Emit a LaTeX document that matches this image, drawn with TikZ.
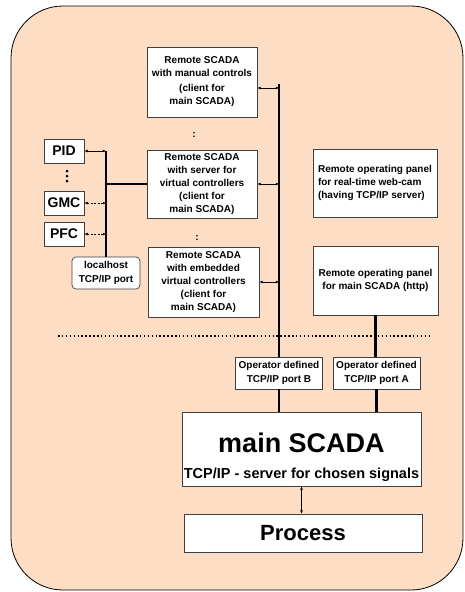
\documentclass[tikz,border=0pt]{standalone}
\usepackage{fontspec}
\setmainfont{Liberation Sans}
\usetikzlibrary{arrows.meta}
\definecolor{peach}{RGB}{253,222,197}

\begin{document}
\begin{tikzpicture}[x=1pt,y=-1pt,>={Latex[length=3.2pt,width=2.8pt]},
    every node/.style={font=\bfseries\fontsize{10}{13}\selectfont,inner sep=0pt},
    box/.style={draw=black!75,fill=white,line width=.7pt,align=center},
    tag/.style={box,font=\bfseries\fontsize{14}{16}\selectfont,minimum width=40pt,minimum height=24pt},
    port/.style={box,font=\bfseries\fontsize{10}{14}\selectfont,minimum width=87pt,minimum height=32pt},
    bus/.style={line width=1.8pt},
    trunk/.style={line width=2.8pt},
    link/.style={line width=.6pt,<->}
    ]
\useasboundingbox (0,0) rectangle (464,592);
\draw[fill=peach,line width=.8pt,rounded corners=52pt] (11,6) rectangle (463,590);

% remote clients
\node[box,minimum width=110pt,minimum height=70pt] (manual) at (202,82)
    {Remote SCADA\\with manual controls\\[2pt](client for\\main SCADA)};
\node (dotsA) at (194,135) {:};
\node[box,minimum width=110pt,minimum height=68pt] (server) at (202,184)
    {Remote SCADA\\with server for\\virtual controllers\\(client for\\main SCADA)};
\node (dotsB) at (197,238) {:};
\node[box,minimum width=111pt,minimum height=70pt] (embedded) at (203.5,282)
    {Remote SCADA\\with embedded\\virtual controllers\\(client for\\main SCADA)};

% operating panels
\node[box,align=left,minimum width=124pt,minimum height=68pt] (webcam) at (375,183)
    {Remote operating panel\\for real-time web-cam\\(having TCP/IP server)};
\node[box,minimum width=125pt,minimum height=69pt] (http) at (375.5,280.5)
    {Remote operating panel\\for main SCADA (http)};

% virtual controllers
\node[tag] (pid) at (64,151) {PID};
\fill (67,171) circle (1.5) (67,176) circle (1.5) (67,181) circle (1.5);
\node[tag] (gmc) at (64,203) {GMC};
\node[tag] (pfc) at (64,234) {PFC};
\node[port,rounded corners=4pt,minimum width=68pt] (localhost) at (106,273) {localhost\\TCP/IP port};

% ports and main
\node[port] (portB) at (279,373) {Operator defined\\TCP/IP port B};
\node[port] (portA) at (376.5,373) {Operator defined\\TCP/IP port A};
\node[box,minimum width=239pt,minimum height=74pt] (main) at (301.5,449) {};
\node[anchor=base,font=\bfseries\fontsize{27}{30}\selectfont] (maintitle) at (301.5,452) {main SCADA};
\node[anchor=base,font=\bfseries\fontsize{14.5}{17}\selectfont] (mainsub) at (301.5,478) {TCP/IP - server for chosen signals};
\node[box,font=\bfseries\fontsize{22}{24}\selectfont,minimum width=238pt,minimum height=38pt] (process) at (303,533) {Process};

% buses
\coordinate (bustop) at (279,84);
\coordinate (lbtop) at (106,151);
\draw[bus] (bustop) -- (portB.north);
\draw[line width=1.4pt] (lbtop) -- (localhost.north);
\draw[trunk] (lbtop |- server.west) -- (server.west);
\draw[trunk] (http.south) -- (http.south |- portA.north);
\draw[trunk] (portB.south) -- (portB.south |- main.north);
\draw[trunk] (portA.south) -- (portA.south |- main.north);

% links
\draw[link] (manual.east |- 0,88) -- (bustop |- 0,88);
\draw[link] (server.east) -- (bustop |- server.east);
\draw[link] (embedded.east) -- (bustop |- embedded.east);
\draw[link] (pid.east) -- (lbtop);
\draw[link,dash pattern=on 2pt off 1.5pt] (gmc.east) -- (lbtop |- gmc.east);
\draw[link,dash pattern=on 2pt off 1.5pt] (pfc.east) -- (lbtop |- pfc.east);
\draw[link] (main.south) -- (main.south |- process.north);

% border between remote and local side
\draw[line width=1.5pt,dash pattern=on 1.5pt off 2.4pt] (58,336) -- (430,336);
\end{tikzpicture}
\end{document}
